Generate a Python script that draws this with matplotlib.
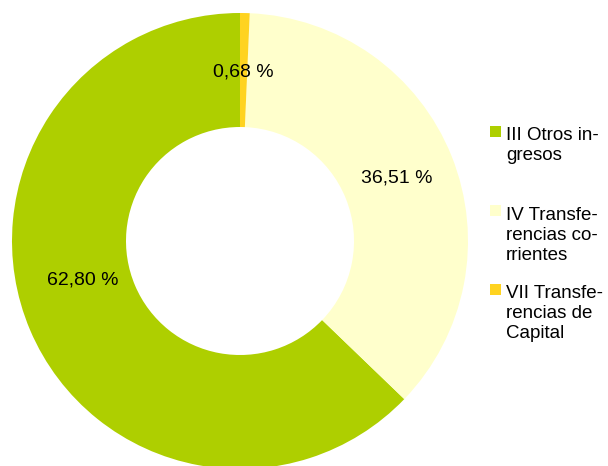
import matplotlib
matplotlib.use("Agg")
import matplotlib.pyplot as plt
from matplotlib.patches import Rectangle
import numpy as np

categories = ["III Otros in-\ngresos", "IV Transfe-\nrencias co-\nrrientes", "VII Transfe-\nrencias de\nCapital"]
values = [62.80, 36.51, 0.68]
colors = ["#AECF00", "#FFFFCC", "#FFD320"]

plt.rcParams['font.family'] = ['Liberation Sans', 'DejaVu Sans']

W, H = 608, 466
fig = plt.figure(figsize=(W / 100, H / 100), dpi=100)
cx, cy, R = 240, 241, 228
ax = fig.add_axes([(cx - R) / W, (H - cy - R) / H, 2 * R / W, 2 * R / H])
wedges, texts, autotexts = ax.pie(
    values, colors=colors, startangle=90, counterclock=True, radius=1,
    wedgeprops=dict(width=0.5, linewidth=0),
    autopct='%1.2f', pctdistance=0.74,
    textprops=dict(fontsize=14, color='black'))
for w in wedges:
    w.set_clip_on(False)
for t, v in zip(autotexts, values):
    t.set_text(f"{v:.2f} %".replace('.', ','))
# LibreOffice-like label placement for the large slice
ang = np.deg2rad(194)
autotexts[0].set_position((0.71 * np.cos(ang), 0.71 * np.sin(ang)))
ax.set_xlim(-1, 1)
ax.set_ylim(-1, 1)
ax.set_aspect('equal')
ax.axis('off')

# legend
baselines = [140.5, 219.5, 298.5]
line_h = 20
for lab, col, b in zip(categories, colors, baselines):
    fig.patches.append(Rectangle((490 / W, (H - (b - 14.5) - 11) / H), 11 / W, 11 / H,
                                 transform=fig.transFigure, facecolor=col, edgecolor='none'))
    for i, line in enumerate(lab.split("\n")):
        fig.text(506 / W, (H - b - i * line_h) / H, line, fontsize=13.5,
                 va='baseline', ha='left', color='black')

fig.savefig("out.png", dpi=100, facecolor='white')
